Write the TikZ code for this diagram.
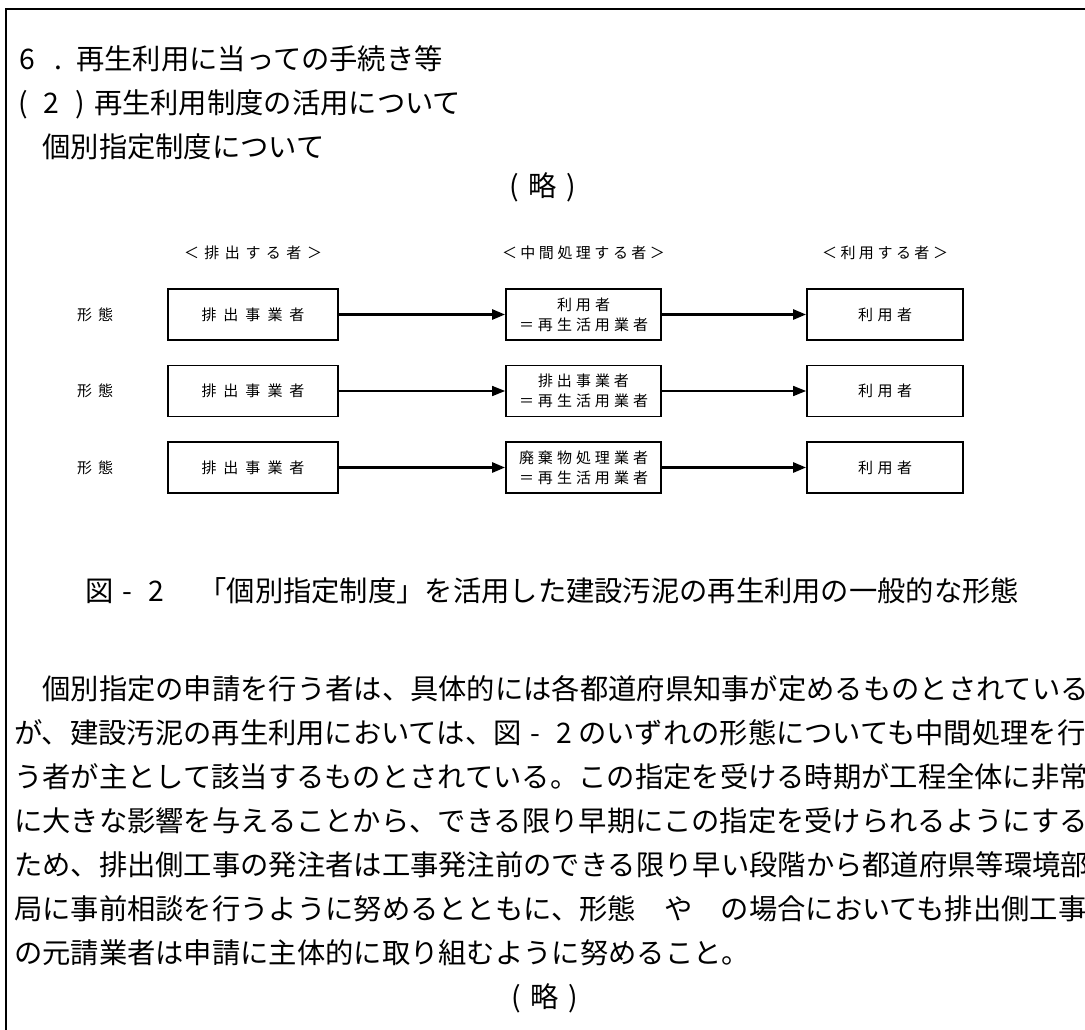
\documentclass[tikz,border=0pt]{standalone}
\usepackage{fontspec}
\setmainfont{Noto Sans CJK JP}
\usetikzlibrary{arrows.meta}
\newlength\myls
\def\ls#1#2{\setlength\myls{#1}\lslp#2\relax\relax}
\def\lslp#1#2{#1\ifx\relax#2\else\hspace{\myls}\expandafter\lslp\expandafter#2\fi}
\newcommand\fwc[1]{\makebox[1em][c]{#1}}
\begin{document}
\begin{tikzpicture}[x=1pt,y=-1pt,
  big/.style={inner sep=0pt,font=\fontsize{28.3pt}{34pt}\selectfont,anchor=base west},
  bigc/.style={inner sep=0pt,font=\fontsize{28.3pt}{34pt}\selectfont,anchor=base},
  sm/.style={inner sep=0pt,font=\fontsize{15pt}{21pt}\selectfont},
  box/.style={draw,line width=1.8pt,minimum height=51pt,inner sep=0pt,align=center,font=\fontsize{15pt}{21pt}\selectfont},
  lbox/.style={box,minimum width=170pt},
  mbox/.style={box,minimum width=155pt},
  rbox/.style={box,minimum width=156pt},
  arr/.style={-{Triangle[length=13pt,width=10pt]},line width=2.6pt},
  arrt/.style={-{Triangle[length=13pt,width=10pt]},line width=1.6pt}
]
\clip (0,0) rectangle (1085,1029);
\fill[white] (0,0) rectangle (1085,1029);
\draw[line width=1.8pt] (6,1030) -- (6,9) -- (1086,9);

% headings
\node[big] (t1) at (19.5,69) {\makebox[1em][l]{6}\makebox[1em][c]{.\hspace{0.25em}}再生利用に当っての手続き等};
\node[big] (t2) at (9,113) {\fwc{(}\fwc{2}\fwc{)}再生利用制度の活用について};
\node[big] (t3) at (14,157) {　個別指定制度について};
\node[bigc] (ryaku1) at (543,196) {\fwc{(}略\fwc{)}};

% column headers
\node[sm] (h1) at (253,253) {\ls{5.5pt}{＜排出する者＞}};
\node[sm] (h2) at (583.5,253) {\ls{3.5pt}{＜中間処理する者＞}};
\node[sm] (h3) at (885,253) {\ls{3.5pt}{＜利用する者＞}};

% row labels
\node[sm] (k1) at (95,314.5) {\ls{6pt}{形態}};
\node[sm] (k2) at (95,391) {\ls{6pt}{形態}};
\node[sm] (k3) at (95,467.5) {\ls{6pt}{形態}};

% boxes
\node[lbox] (L1) at (253,314.5) {\ls{7pt}{排出事業者}};
\node[lbox] (L2) at (253,391) {\ls{7pt}{排出事業者}};
\node[lbox] (L3) at (253,467.5) {\ls{7pt}{排出事業者}};
\node[mbox] (M1) at (583.5,314.5) {\ls{4pt}{利用者}\\[-1pt]\ls{4pt}{＝再生活用業者}};
\node[mbox] (M2) at (583.5,391) {\ls{4pt}{排出事業者}\\[-1pt]\ls{4pt}{＝再生活用業者}};
\node[mbox] (M3) at (583.5,467.5) {\ls{4pt}{廃棄物処理業者}\\[-1pt]\ls{4pt}{＝再生活用業者}};
\node[rbox] (R1) at (885,314.5) {\ls{4.5pt}{利用者}};
\node[rbox] (R2) at (885,391) {\ls{4.5pt}{利用者}};
\node[rbox] (R3) at (885,467.5) {\ls{4.5pt}{利用者}};

% arrows
\draw[arr] (L1.east) -- (M1.west);
\draw[arr] (M1.east) -- (R1.west);
\draw[arrt] (L2.east) -- (M2.west);
\draw[arrt] (M2.east) -- (R2.west);
\draw[arr] (L3.east) -- (M3.west);
\draw[arr] (M3.east) -- (R3.west);

% caption
\node[big] (cap) at (85,601) {図\fwc{-}\fwc{2}　「個別指定制度」を活用した建設汚泥の再生利用の一般的な形態};

% paragraph
\node[big] (p1) at (14,699) {　個別指定の申請を行う者は、具体的には各都道府県知事が定めるものとされている};
\node[big] (p2) at (14,743) {が、建設汚泥の再生利用においては、図\fwc{-}\fwc{2}のいずれの形態についても中間処理を行};
\node[big] (p3) at (14,787) {う者が主として該当するものとされている。この指定を受ける時期が工程全体に非常};
\node[big] (p4) at (14,831) {に大きな影響を与えることから、できる限り早期にこの指定を受けられるようにする};
\node[big] (p5) at (14,875) {ため、排出側工事の発注者は工事発注前のできる限り早い段階から都道府県等環境部};
\node[big] (p6) at (14,919) {局に事前相談を行うように努めるとともに、形態　や　の場合においても排出側工事};
\node[big] (p7) at (14,963) {の元請業者は申請に主体的に取り組むように努めること。};
\node[bigc] (ryaku2) at (545,1007) {\fwc{(}略\fwc{)}};
\end{tikzpicture}
\end{document}
